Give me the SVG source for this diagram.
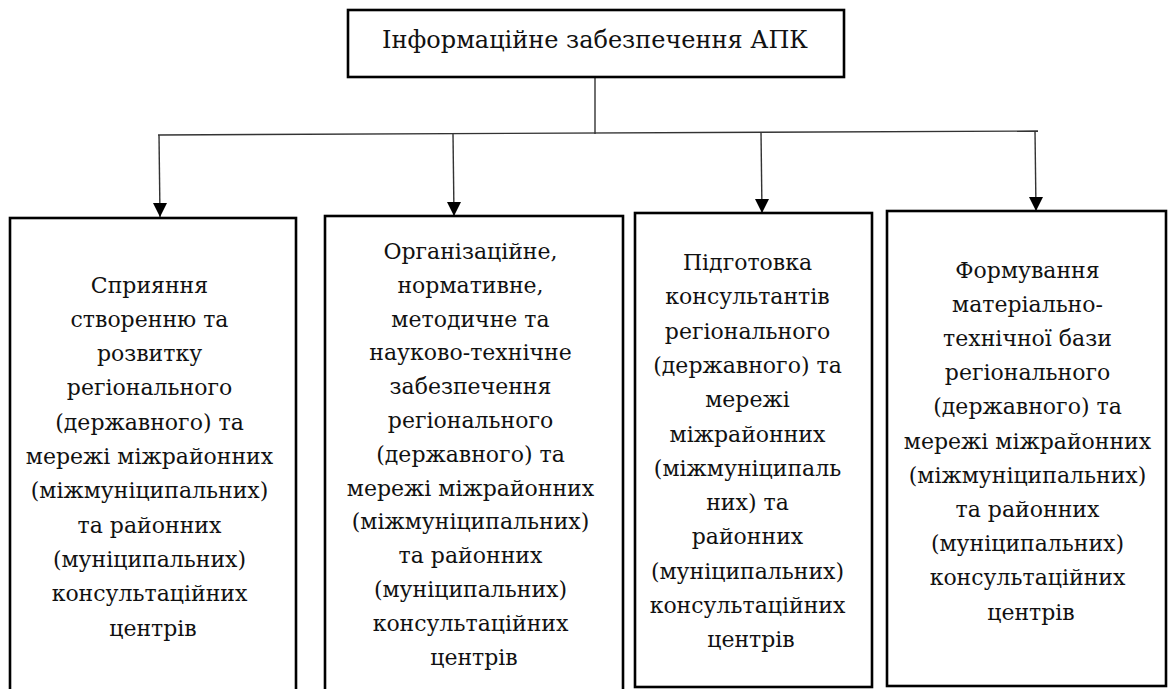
<svg xmlns="http://www.w3.org/2000/svg" width="1172" height="689" viewBox="0 0 1172 689">
  <style>
    .box { fill: #ffffff; stroke: #000000; stroke-width: 2.6; }
    .conn { fill: none; stroke: #333333; stroke-width: 1.4; }
    .t { font-family: "DejaVu Serif", serif; font-size: 22px; fill: #111111; text-anchor: middle; }
    .title { font-size: 24px; }
  </style>
  <rect width="1172" height="689" fill="#ffffff"/>

  <g id="connectors">
    <line class="conn" x1="595" y1="77" x2="595" y2="134"/>
    <line class="conn" x1="158" y1="135" x2="1038" y2="131"/>
    <path class="conn" d="M159,135 L160,217"/>
    <path class="conn" d="M453,134 L454,216"/>
    <path class="conn" d="M761,132 L762,213"/>
    <path class="conn" d="M1035,131 L1036,211"/>
    <path d="M153,203 L167,203 L160,217 Z" fill="#000"/>
    <path d="M447,202 L461,202 L454,216 Z" fill="#000"/>
    <path d="M755,199 L769,199 L762,213 Z" fill="#000"/>
    <path d="M1029,197 L1043,197 L1036,211 Z" fill="#000"/>
  </g>

  <g id="node-top">
    <rect class="box" x="348" y="10" width="496" height="67"/>
    <text class="t title" x="595" y="48">Інформаційне забезпечення АПК</text>
  </g>

  <g id="node-1">
    <rect class="box" x="10" y="218" width="286" height="490"/>
    <text class="t">
      <tspan x="153" y="292.5">Сприяння</tspan>
      <tspan x="153" y="326.8">створенню та</tspan>
      <tspan x="153" y="361.1">розвитку</tspan>
      <tspan x="153" y="395.4">регіонального</tspan>
      <tspan x="153" y="429.7">(державного) та</tspan>
      <tspan x="153" y="464">мережі міжрайонних</tspan>
      <tspan x="153" y="498.3">(міжмуніципальних)</tspan>
      <tspan x="153" y="532.6">та районних</tspan>
      <tspan x="153" y="566.9">(муніципальних)</tspan>
      <tspan x="153" y="601.2">консультаційних</tspan>
      <tspan x="153" y="635.5">центрів</tspan>
    </text>
  </g>

  <g id="node-2">
    <rect class="box" x="325" y="216" width="298" height="492"/>
    <text class="t">
      <tspan x="474" y="259">Організаційне,</tspan>
      <tspan x="474" y="292.8">нормативне,</tspan>
      <tspan x="474" y="326.6">методичне та</tspan>
      <tspan x="474" y="360.4">науково-технічне</tspan>
      <tspan x="474" y="394.2">забезпечення</tspan>
      <tspan x="474" y="428">регіонального</tspan>
      <tspan x="474" y="461.8">(державного) та</tspan>
      <tspan x="474" y="495.6">мережі міжрайонних</tspan>
      <tspan x="474" y="529.4">(міжмуніципальних)</tspan>
      <tspan x="474" y="563.2">та районних</tspan>
      <tspan x="474" y="597">(муніципальних)</tspan>
      <tspan x="474" y="630.8">консультаційних</tspan>
      <tspan x="474" y="664.6">центрів</tspan>
    </text>
  </g>

  <g id="node-3">
    <rect class="box" x="635" y="213" width="237" height="474"/>
    <text class="t">
      <tspan x="751" y="270">Підготовка</tspan>
      <tspan x="751" y="304.3">консультантів</tspan>
      <tspan x="751" y="338.6">регіонального</tspan>
      <tspan x="751" y="372.9">(державного) та</tspan>
      <tspan x="751" y="407.2">мережі</tspan>
      <tspan x="751" y="441.5">міжрайонних</tspan>
      <tspan x="751" y="475.8">(міжмуніципаль</tspan>
      <tspan x="751" y="510.1">них) та</tspan>
      <tspan x="751" y="544.4">районних</tspan>
      <tspan x="751" y="578.7">(муніципальних)</tspan>
      <tspan x="751" y="613">консультаційних</tspan>
      <tspan x="751" y="647.3">центрів</tspan>
    </text>
  </g>

  <g id="node-4">
    <rect class="box" x="887" y="211" width="279" height="475"/>
    <text class="t">
      <tspan x="1031" y="277.5">Формування</tspan>
      <tspan x="1031" y="311.7">матеріально-</tspan>
      <tspan x="1031" y="345.9">технічної бази</tspan>
      <tspan x="1031" y="380.1">регіонального</tspan>
      <tspan x="1031" y="414.3">(державного) та</tspan>
      <tspan x="1031" y="448.5">мережі міжрайонних</tspan>
      <tspan x="1031" y="482.7">(міжмуніципальних)</tspan>
      <tspan x="1031" y="516.9">та районних</tspan>
      <tspan x="1031" y="551.1">(муніципальних)</tspan>
      <tspan x="1031" y="585.3">консультаційних</tspan>
      <tspan x="1031" y="619.5">центрів</tspan>
    </text>
  </g>
</svg>
